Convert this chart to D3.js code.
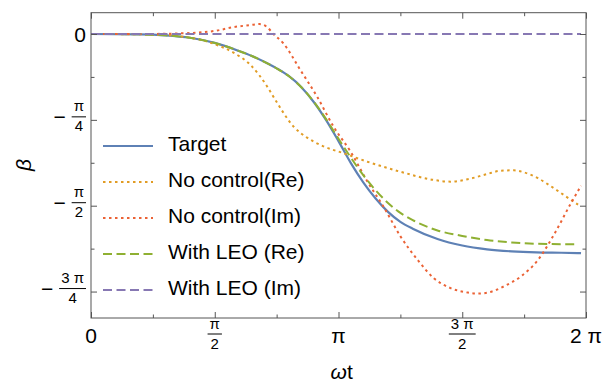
<!DOCTYPE html>
<html>
<head>
<meta charset="utf-8">
<script src="https://cdn.jsdelivr.net/npm/d3@7"></script>
<style>
  body { margin: 0; background: #fff; }
  text { font-family: "Liberation Sans", Arial, sans-serif; fill: #000; }
</style>
</head>
<body>
<div id="chart"></div>
<script>
// x and y are in units of pi
const xTarget = [0, 0.2, 0.3, 0.4, 0.5, 0.6, 0.65, 0.7, 0.75, 0.8, 0.85, 0.9, 0.95, 1.0, 1.05, 1.1, 1.15, 1.2, 1.25, 1.3, 1.4, 1.5, 1.6, 1.7, 1.8, 1.9, 1.98];
const yTarget = [0, -0.001, -0.004, -0.011, -0.026, -0.050, -0.064, -0.081, -0.100, -0.123, -0.155, -0.198, -0.251, -0.312, -0.376, -0.432, -0.479, -0.518, -0.547, -0.567, -0.597, -0.616, -0.627, -0.633, -0.636, -0.637, -0.638];

const xNoCtrlRe = [0, 0.2, 0.3, 0.372, 0.45, 0.509, 0.575, 0.644, 0.68, 0.711, 0.745, 0.777, 0.8, 0.819, 0.846, 0.873, 0.939, 1.02, 1.117, 1.25, 1.385, 1.453, 1.522, 1.6, 1.656, 1.709, 1.75, 1.806, 1.87, 1.939, 1.968];
const yNoCtrlRe = [0, -0.001, -0.003, -0.008, -0.018, -0.032, -0.054, -0.090, -0.120, -0.152, -0.192, -0.229, -0.253, -0.270, -0.288, -0.302, -0.327, -0.347, -0.372, -0.401, -0.425, -0.430, -0.423, -0.408, -0.398, -0.397, -0.403, -0.420, -0.449, -0.483, -0.497];

const xNoCtrlIm = [0, 0.2, 0.372, 0.509, 0.575, 0.644, 0.68, 0.71, 0.737, 0.777, 0.846, 0.914, 0.98, 1.049, 1.117, 1.182, 1.251, 1.32, 1.385, 1.453, 1.522, 1.56, 1.603, 1.668, 1.737, 1.806, 1.87, 1.939, 1.98];
const yNoCtrlIm = [0, 0, 0.002, 0.010, 0.020, 0.026, 0.029, 0.021, 0, -0.027, -0.105, -0.183, -0.270, -0.343, -0.430, -0.503, -0.590, -0.658, -0.711, -0.740, -0.753, -0.756, -0.753, -0.735, -0.706, -0.658, -0.585, -0.493, -0.442];

const xLeoRe = [0, 0.2, 0.3, 0.4, 0.5, 0.6, 0.65, 0.7, 0.75, 0.8, 0.85, 0.9, 0.95, 1.0, 1.05, 1.1, 1.15, 1.2, 1.25, 1.3, 1.4, 1.5, 1.6, 1.7, 1.8, 1.9, 1.97];
const yLeoRe = [0, -0.001, -0.004, -0.011, -0.026, -0.050, -0.064, -0.081, -0.100, -0.123, -0.155, -0.197, -0.248, -0.305, -0.360, -0.411, -0.455, -0.492, -0.521, -0.542, -0.572, -0.588, -0.600, -0.607, -0.611, -0.612, -0.612];

const xLeoIm = [0, 0.5, 1.0, 1.5, 1.98];
const yLeoIm = [0, 0, 0, 0, 0];

const seriesNames = ["Target", "No control(Re)", "No control(Im)", "With LEO (Re)", "With LEO (Im)"];
const seriesColors = ["#5E81B5", "#E19C24", "#EB6235", "#8FB032", "#8778B3"];
const seriesDash = [null, "2.5,3.5", "2.5,3.5", "9,4.5", "9,4.5"];

const xMajor = [0, 0.5, 1, 1.5, 2];
const xMinor = [0.25, 0.75, 1.25, 1.75];
const yMajor = [0, -0.25, -0.5, -0.75];
const yMinor = [-0.125, -0.375, -0.625];

const xLabels = [
  { v: 0, text: "0" },
  { v: 0.5, num: "π", den: "2" },
  { v: 1, text: "π" },
  { v: 1.5, num: "3 π", den: "2" },
  { v: 2, text: "2 π" }
];
const yLabels = [
  { v: 0, text: "0" },
  { v: -0.25, num: "π", den: "4" },
  { v: -0.5, num: "π", den: "2" },
  { v: -0.75, num: "3 π", den: "4" }
];

const width = 615, height = 385;
const mLeft = 91, mRight = 586, mTop = 12.7, mBottom = 318;

const svg = d3.select("#chart").append("svg")
  .attr("width", width)
  .attr("height", height);

const x = d3.scaleLinear().domain([0, 2]).range([mLeft, mRight]);
const y = d3.scaleLinear().domain([-0.827, 0.062]).range([mBottom, mTop]);

// series
const series = [
  [xTarget, yTarget], [xNoCtrlRe, yNoCtrlRe], [xNoCtrlIm, yNoCtrlIm], [xLeoRe, yLeoRe], [xLeoIm, yLeoIm]
].map((s, i) => ({ pts: s[0].map((v, j) => [v, s[1][j]]), i }));

const line = d3.line()
  .x(d => x(d[0]))
  .y(d => y(d[1]))
  .curve(d3.curveMonotoneX);

svg.append("g").selectAll("path")
  .data(series)
  .enter()
  .append("path")
  .attr("d", d => line(d.pts))
  .attr("fill", "none")
  .attr("stroke", d => seriesColors[d.i])
  .attr("stroke-width", d => d.i === 0 ? 2.2 : 2)
  .attr("stroke-dasharray", d => seriesDash[d.i]);

// frame + ticks (inward, all four sides)
const frameColor = "#555";
function tickAxis(axis, vals, size, tx, ty) {
  const g = svg.append("g")
    .attr("transform", `translate(${tx},${ty})`)
    .call(axis.tickValues(vals).tickSize(size).tickFormat(""));
  g.select(".domain").remove();
  g.selectAll("line").attr("stroke", frameColor);
}
tickAxis(d3.axisBottom(x), xMajor, -6, 0, mBottom);
tickAxis(d3.axisBottom(x), xMinor, -3.5, 0, mBottom);
tickAxis(d3.axisTop(x), xMajor, -6, 0, mTop);
tickAxis(d3.axisTop(x), xMinor, -3.5, 0, mTop);
tickAxis(d3.axisLeft(y), yMajor, -6, mLeft, 0);
tickAxis(d3.axisLeft(y), yMinor, -3.5, mLeft, 0);
tickAxis(d3.axisRight(y), yMajor, -6, mRight, 0);
tickAxis(d3.axisRight(y), yMinor, -3.5, mRight, 0);

svg.append("rect")
  .attr("x", mLeft).attr("y", mTop)
  .attr("width", mRight - mLeft).attr("height", mBottom - mTop)
  .attr("fill", "none")
  .attr("stroke", frameColor)
  .attr("stroke-width", 1);

// fraction helper
function fraction(g, d, cx) {
  const num = g.append("text")
    .attr("font-size", 15)
    .attr("text-anchor", "middle")
    .text(d.num);
  const w = num.node().getComputedTextLength() + 4;
  num.attr("x", cx(w)).attr("y", -5.5);
  g.append("text")
    .attr("font-size", 15)
    .attr("text-anchor", "middle")
    .attr("x", cx(w)).attr("y", 14.5)
    .text(d.den);
  return w;
}

// x labels
xLabels.forEach(d => {
  const g = svg.append("g").attr("transform", `translate(${x(d.v)},0)`);
  if (d.text) {
    g.append("text")
      .attr("y", 343)
      .attr("font-size", 21)
      .attr("text-anchor", "middle")
      .text(d.text);
  } else {
    const fg = g.append("g").attr("transform", "translate(0,334)");
    const w = fraction(fg, d, () => 0);
    fg.append("line")
      .attr("x1", -w / 2).attr("x2", w / 2)
      .attr("y1", 0).attr("y2", 0)
      .attr("stroke", "#000").attr("stroke-width", 1);
  }
});

// y labels
yLabels.forEach(d => {
  const g = svg.append("g").attr("transform", `translate(86,${y(d.v)})`);
  if (d.text) {
    g.append("text")
      .attr("y", 8)
      .attr("font-size", 21)
      .attr("text-anchor", "end")
      .text(d.text);
  } else {
    const fg = g.append("g").attr("transform", "translate(0,-3)");
    const w = fraction(fg, d, w => -w / 2);
    fg.append("line")
      .attr("x1", -w).attr("x2", 0)
      .attr("y1", 0).attr("y2", 0)
      .attr("stroke", "#000").attr("stroke-width", 1);
    fg.append("text")
      .attr("x", -w - 6).attr("y", 7)
      .attr("font-size", 21)
      .attr("text-anchor", "end")
      .text("−");
  }
});

// axis titles
const xt = svg.append("text")
  .attr("x", 341.7).attr("y", 379)
  .attr("font-size", 21)
  .attr("text-anchor", "middle");
xt.append("tspan").attr("font-style", "italic").text("ω");
xt.append("tspan").text("t");

svg.append("text")
  .attr("transform", "translate(31,165) rotate(-90)")
  .attr("font-size", 21)
  .attr("font-style", "italic")
  .attr("text-anchor", "middle")
  .text("β");

// legend
const legendY = d3.scalePoint().domain(seriesNames).range([146, 290]);
const lg = svg.append("g").selectAll("g")
  .data(seriesNames)
  .enter()
  .append("g")
  .attr("transform", d => `translate(0,${legendY(d)})`);
lg.append("line")
  .attr("x1", 103).attr("x2", 153)
  .attr("stroke", (d, i) => seriesColors[i])
  .attr("stroke-width", (d, i) => i === 0 ? 2.2 : 2)
  .attr("stroke-dasharray", (d, i) => seriesDash[i]);
lg.append("text")
  .attr("x", 168).attr("y", 5)
  .attr("font-size", 21)
  .text(d => d);
</script>
</body>
</html>
